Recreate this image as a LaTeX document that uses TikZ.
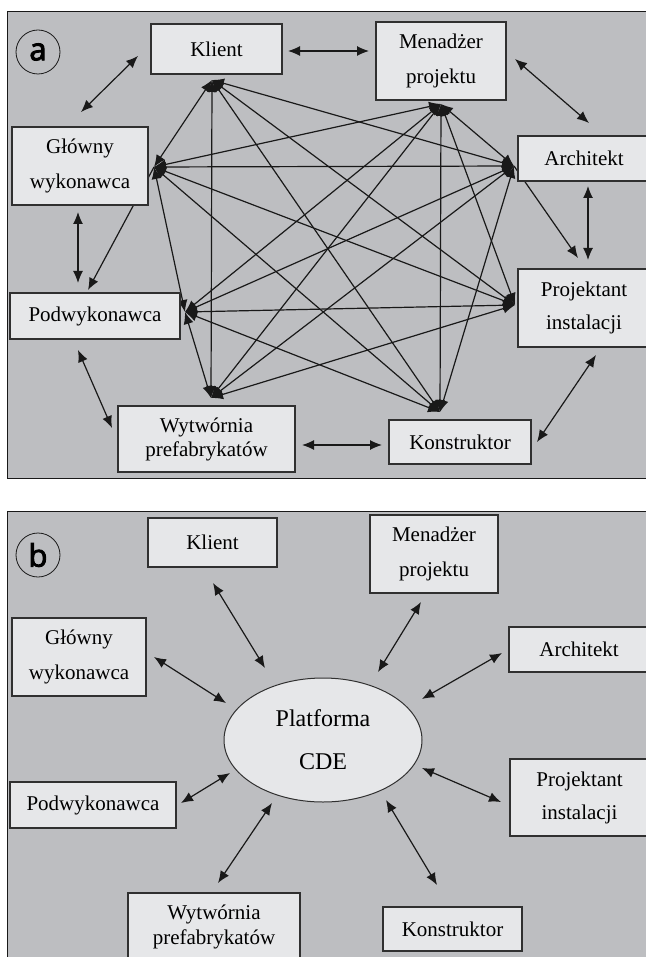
\documentclass[tikz,border=0pt]{standalone}
\usepackage{fontspec}
\setmainfont{Liberation Serif}
\newfontfamily\labfont[FakeBold=3]{Open Sans}
\usetikzlibrary{arrows.meta,shapes.geometric}
\definecolor{bg}{RGB}{189,190,193}
\definecolor{boxfill}{RGB}{230,231,233}
\definecolor{ln}{RGB}{25,25,25}
\begin{document}
\begin{tikzpicture}[x=1pt,y=-1pt,
  frame/.style={draw=ln, line width=0.8pt, fill=bg},
  box/.style={draw=ln!90, line width=1.2pt, fill=boxfill, inner sep=0pt, align=center, font=\fontsize{21}{35}\selectfont},
  mesh/.style={draw=ln, line width=1.2pt, {Latex[length=12pt,width=10pt]}-{Latex[length=12pt,width=10pt]}},
  single/.style={draw=ln, line width=1.2pt, -{Latex[length=12pt,width=10pt]}},
  lab/.style={circle, draw=ln, line width=0.8pt, minimum size=44pt, inner sep=0pt, font=\labfont\fontsize{31}{31}\selectfont}
]
\useasboundingbox (0,0) rectangle (645,957);
% ---------- panel a ----------
\path[frame] (7,11) rectangle (665,478);
\node[lab] (la) at (38,52) {a};
% hubs
\coordinate (hK) at (212,80);
\coordinate (hM) at (441,104);
\coordinate (hG) at (154,167);
\coordinate (hA) at (514,166);
\coordinate (hPw) at (185,312);
\coordinate (hP) at (515,305);
\coordinate (hW) at (211,398);
\coordinate (hKo) at (440,412);
\coordinate (pwTop) at (88,290);
\coordinate (pTop) at (578,258);
% mesh
\draw[mesh] (hK) -- (hG);
\draw[mesh] (hK) -- (hW);
\draw[mesh] (hK) -- (hA);
\draw[mesh] (hK) -- (hP);
\draw[mesh] (hK) -- (hKo);
\draw[mesh] (hM) -- (hG);
\draw[mesh] (hM) -- (hPw);
\draw[mesh] (hM) -- (hW);
\draw[mesh] (hM) -- (hKo);
\draw[mesh] (hM) -- (hP);
\draw[mesh] (hM) -- (hA);
\draw[mesh] (hG) -- (hA);
\draw[mesh] (hG) -- (hP);
\draw[mesh] (hG) -- (hKo);
\draw[mesh] (hG) -- (hPw);
\draw[mesh] (hPw) -- (hA);
\draw[mesh] (hPw) -- (hP);
\draw[mesh] (hPw) -- (hKo);
\draw[mesh] (hPw) -- (hW);
\draw[mesh] (hW) -- (hA);
\draw[mesh] (hW) -- (hP);
\draw[mesh] (hA) -- (hKo);
\draw[single] (hG) -- (pwTop);
\draw[single] (hA) -- (pTop);
% outer arrows
\coordinate (oKM1) at (288,51); \coordinate (oKM2) at (369,51);
\coordinate (oGK1) at (81,112); \coordinate (oGK2) at (138,56);
\coordinate (oMA1) at (515,59); \coordinate (oMA2) at (589,123);
\coordinate (oAP1) at (588,186); \coordinate (oAP2) at (588,260);
\coordinate (oGP1) at (78,212); \coordinate (oGP2) at (78,283);
\coordinate (oPW1) at (78,350); \coordinate (oPW2) at (112,428);
\coordinate (oWK1) at (302,445); \coordinate (oWK2) at (382,445);
\coordinate (oKP1) at (537,442); \coordinate (oKP2) at (596,355);
\draw[mesh] (oKM1) -- (oKM2);
\draw[mesh] (oGK1) -- (oGK2);
\draw[mesh] (oMA1) -- (oMA2);
\draw[mesh] (oAP1) -- (oAP2);
\draw[mesh] (oGP1) -- (oGP2);
\draw[mesh] (oPW1) -- (oPW2);
\draw[mesh] (oWK1) -- (oWK2);
\draw[mesh] (oKP1) -- (oKP2);
% boxes
\node[box, minimum width=131pt, minimum height=50pt] (aK) at (216.5,49) {Klient};
\node[box, minimum width=130pt, minimum height=78pt] (aM) at (441,61) {Menadżer\\projektu};
\node[box, minimum width=136pt, minimum height=78pt] (aG) at (80,166) {Główny\\wykonawca};
\node[box, minimum width=138pt, minimum height=45pt] (aA) at (587,158.5) {\hspace*{-6pt}Architekt};
\node[box, minimum width=170pt, minimum height=46pt] (aPw) at (95,316) {Podwykonawca};
\node[box, minimum width=138pt, minimum height=78pt, font=\fontsize{21}{33}\selectfont] (aP) at (587,308) {\hspace*{-6pt}Projektant\\\hspace*{-6pt}instalacji};
\node[box, minimum width=177pt, minimum height=66pt, font=\fontsize{21}{24}\selectfont] (aW) at (206.5,439) {Wytwórnia\\prefabrykatów};
\node[box, minimum width=142pt, minimum height=44pt] (aKo) at (460,442) {Konstruktor};
% ---------- panel b ----------
\path[frame] (7,511) rectangle (665,975);
\node[lab] (lb) at (38,555) {b};
\node[ellipse, draw=ln!90, line width=1pt, fill=boxfill, minimum width=198pt, minimum height=124pt, inner sep=0pt, align=center, font=\fontsize{24}{43}\selectfont] (cde) at (323,740) {Platforma\\CDE};
\coordinate (bK1) at (213,583); \coordinate (bK2) at (265,668);
\coordinate (bM1) at (421,602); \coordinate (bM2) at (378,672);
\coordinate (bG1) at (154,657); \coordinate (bG2) at (226,703);
\coordinate (bA1) at (502,653); \coordinate (bA2) at (422,699);
\coordinate (bPw1) at (181,803); \coordinate (bPw2) at (230,773);
\coordinate (bP1) at (422,768); \coordinate (bP2) at (501,802);
\coordinate (bW1) at (218,883); \coordinate (bW2) at (272,803);
\coordinate (bKo1) at (386,800); \coordinate (bKo2) at (437,885);
\draw[mesh] (bK1) -- (bK2);
\draw[mesh] (bM1) -- (bM2);
\draw[mesh] (bG1) -- (bG2);
\draw[mesh] (bA1) -- (bA2);
\draw[mesh] (bPw1) -- (bPw2);
\draw[mesh] (bP1) -- (bP2);
\draw[mesh] (bW1) -- (bW2);
\draw[mesh] (bKo1) -- (bKo2);
\node[box, minimum width=129pt, minimum height=49pt] (bK) at (212.5,542.5) {Klient};
\node[box, minimum width=128pt, minimum height=78pt] (bM) at (434,554) {Menadżer\\projektu};
\node[box, minimum width=134pt, minimum height=78pt] (bG) at (79,657) {Główny\\wykonawca};
\node[box, minimum width=146pt, minimum height=45pt] (bA) at (582,649.5) {\hspace*{-6pt}Architekt};
\node[box, minimum width=166pt, minimum height=46pt] (bPw) at (93,805) {Podwykonawca};
\node[box, minimum width=145pt, minimum height=77pt, font=\fontsize{21}{33}\selectfont] (bP) at (582.5,797.5) {\hspace*{-6pt}Projektant\\\hspace*{-6pt}instalacji};
\node[box, minimum width=172pt, minimum height=86pt, font=\fontsize{21}{25}\selectfont] (bW) at (214,936) {Wytwórnia\\prefabrykatów\\[-3pt]\mbox{}};
\node[box, minimum width=139pt, minimum height=44pt] (bKo) at (452.5,929) {Konstruktor};
\end{tikzpicture}
\end{document}
